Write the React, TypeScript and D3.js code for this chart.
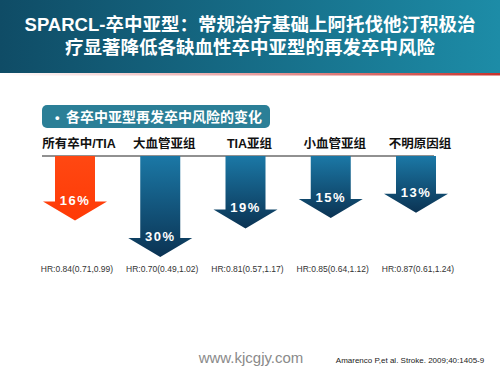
import React from "react";
import * as d3 from "d3";

const categories = ["所有卒中/TIA", "大血管亚组", "TIA亚组", "小血管亚组", "不明原因组"];
const reductions = [16, 30, 19, 15, 13];
const hrLabels = [
  "HR:0.84(0.71,0.99)",
  "HR:0.70(0.49,1.02)",
  "HR:0.81(0.57,1.17)",
  "HR:0.85(0.64,1.12)",
  "HR:0.87(0.61,1.24)",
];
const titleLines = [
  "SPARCL-卒中亚型：常规治疗基础上阿托伐他汀积极治",
  "疗显著降低各缺血性卒中亚型的再发卒中风险",
];
const subtitle = "各卒中亚型再发卒中风险的变化";
const siteText = "www.kjcgjy.com";
const citation = "Amarenco P,et al. Stroke. 2009;40:1405-9";

const FONT = "'Liberation Sans', Arial, 'Noto Sans CJK SC', sans-serif";

export default function App() {
  const W = 500, H = 375;
  const lineY = 156;
  const x = d3.scalePoint<string>().domain(categories).range([75, 416]);
  const tipY = d3.scaleLinear().domain([0, 30]).range([179, 257]);
  const shaftHalf = 20;
  const headHalf = 32;
  const headH = 19;

  const arrowPath = (cx: number, v: number) => {
    const tip = tipY(v);
    const hs = tip - headH;
    const p = d3.path();
    p.moveTo(cx - shaftHalf, lineY);
    p.lineTo(cx + shaftHalf, lineY);
    p.lineTo(cx + shaftHalf, hs);
    p.lineTo(cx + headHalf, hs);
    p.lineTo(cx, tip);
    p.lineTo(cx - headHalf, hs);
    p.lineTo(cx - shaftHalf, hs);
    p.closePath();
    return p.toString();
  };

  return (
    <svg width={W} height={H} style={{ position: "absolute", left: 0, top: 0, background: "#fff" }} fontFamily={FONT}>
      <defs>
        <linearGradient id="hdr" x1="0" x2="1" y1="0" y2="0">
          <stop offset="0" stopColor="#0f4c66" />
          <stop offset="1" stopColor="#1d8ca7" />
        </linearGradient>
        <linearGradient id="redline" x1="0" x2="1" y1="0" y2="0">
          <stop offset="0" stopColor="#ffffff" />
          <stop offset="0.5" stopColor="#e8a0a0" />
          <stop offset="1" stopColor="#c8322c" />
        </linearGradient>
        <linearGradient id="blueArrow" x1="0" x2="0" y1="0" y2="1">
          <stop offset="0" stopColor="#1b78a6" />
          <stop offset="1" stopColor="#0b3353" />
        </linearGradient>
        <linearGradient id="redArrow" x1="0" x2="0" y1="0" y2="1">
          <stop offset="0" stopColor="#ff4812" />
          <stop offset="1" stopColor="#ff3a06" />
        </linearGradient>
      </defs>
      <rect x={0} y={0} width={W} height={73} fill="url(#hdr)" />
      <rect x={0} y={73} width={W} height={2.5} fill="url(#redline)" />
      {titleLines.map((t, i) => (
        <text key={i} x={250} y={31 + i * 23} textAnchor="middle" fill="#fff" fontSize={18.5} fontWeight="bold">
          {t}
        </text>
      ))}
      <rect x={42} y={105} width={228} height={23} rx={5} fill="#2b7f97" />
      <text x={55} y={122} fill="#fff" fontSize={13} fontWeight="bold">•</text>
      <text x={66} y={122} fill="#fff" fontSize={14} fontWeight="bold">{subtitle}</text>

      {categories.map((c) => (
        <text key={c} x={(x(c) as number) + 4} y={148} textAnchor="middle" fontSize={12.5} fontWeight="bold" fill="#111">
          {c}
        </text>
      ))}
      <line x1={42} x2={434} y1={lineY} y2={lineY} stroke="#222" strokeWidth={1} />

      {categories.map((c, i) => {
        const cx = x(c) as number;
        const v = reductions[i];
        const tip = tipY(v);
        return (
          <g key={"a" + c}>
            <path d={arrowPath(cx, v)} fill={i === 0 ? "url(#redArrow)" : "url(#blueArrow)"} />
            <text x={cx} y={tip - headH + 3} textAnchor="middle" fill="#fff" fontSize={13} fontWeight="bold" letterSpacing={1.5}>
              {v}%
            </text>
            <text x={cx + 2} y={272} textAnchor="middle" fill="#333" fontSize={8.5}>
              {hrLabels[i]}
            </text>
          </g>
        );
      })}

      <text x={251} y={363} textAnchor="middle" fill="#8a8a8a" fontSize={15}>{siteText}</text>
      <text x={410} y={363} textAnchor="middle" fill="#222" fontSize={8}>{citation}</text>
    </svg>
  );
}
